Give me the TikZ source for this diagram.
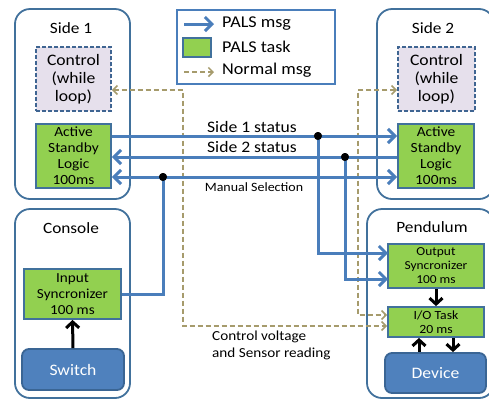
\documentclass[tikz,border=0pt]{standalone}
\usepackage{fontspec}
\setmainfont[FakeStretch=1.1]{Carlito}
\usetikzlibrary{arrows.meta}
\definecolor{lnblue}{HTML}{4A7EBB}
\definecolor{bdblue}{HTML}{41719C}
\definecolor{tgreen}{HTML}{92D050}
\definecolor{ctlfill}{HTML}{E6E0EC}
\definecolor{ctlbd}{HTML}{3F6592}
\definecolor{khaki}{HTML}{A69B6C}
\definecolor{devfill}{HTML}{4F81BD}
\definecolor{devbd}{HTML}{3A6594}
\begin{document}
\begin{tikzpicture}[x=1pt,y=-1pt,
 container/.style={draw=bdblue, line width=1.8pt, rounded corners=15pt, inner sep=0pt},
 ctlbox/.style={draw=ctlbd, fill=ctlfill, dash pattern=on 4pt off 2pt, line width=1.8pt, align=center, font=\fontsize{16}{18}\selectfont, inner sep=0pt},
 task/.style={draw=bdblue, fill=tgreen, line width=1.8pt, align=center, inner sep=0pt},
 hw/.style={draw=devbd, fill=devfill, line width=1.8pt, rounded corners=7pt, text=white, font=\fontsize{16}{18}\selectfont, inner sep=0pt},
 title/.style={font=\fontsize{15.7}{18}\selectfont, inner sep=0pt},
 pals/.style={draw=lnblue, line width=3pt, -{Straight Barb[length=7pt,width=14pt]}},
 palsboth/.style={draw=lnblue, line width=3pt, {Straight Barb[length=7pt,width=14pt]}-{Straight Barb[length=7pt,width=14pt]}},
 palsline/.style={draw=lnblue, line width=3pt},
 nmsg/.style={draw=khaki, line width=1.5pt, dash pattern=on 5pt off 3pt, -{Straight Barb[length=4.5pt,width=9pt]}},
 nmsgboth/.style={draw=khaki, line width=1.5pt, dash pattern=on 5pt off 3pt, {Straight Barb[length=4.5pt,width=9pt]}-{Straight Barb[length=4.5pt,width=9pt]}},
 ctrlarrow/.style={draw=black, line width=3pt, -{Straight Barb[length=6pt,width=13pt]}},
 dot/.style={circle, fill=black, inner sep=0pt, minimum size=8pt},
 lbl/.style={inner sep=0pt}
]
\useasboundingbox (0,0) rectangle (489,400);
\clip (0,0) rectangle (489,400);
\fill[white] (0,0) rectangle (489,400);

% containers
\node[container, minimum width=115pt, minimum height=190pt] (side1) at (72.5,104) {};
\node[container, minimum width=115pt, minimum height=189pt] (console) at (72.5,303.5) {};
\node[container, minimum width=117pt, minimum height=190pt] (side2) at (435.5,104) {};
\node[container, minimum width=127pt, minimum height=189pt] (pend) at (430.5,303.5) {};

\node[title] (t1) at (71,28) {Side 1};
\node[title] (t2) at (71,228) {Console};
\node[title] (t3) at (433,28) {Side 2};
\node[title] (t4) at (432,227) {Pendulum};

% legend
\node[draw=lnblue, line width=1.8pt, minimum width=158pt, minimum height=74pt, inner sep=0pt] (legend) at (256,47) {};
\coordinate (la1) at (184,24);
\coordinate (la2) at (214,24);
\draw[pals] (la1) -- (la2);
\node[task, minimum width=28pt, minimum height=19pt] (lsq) at (197,47.5) {};
\coordinate (lb1) at (184,72);
\coordinate (lb2) at (214,72);
\draw[nmsg] (lb1) -- (lb2);
\node[lbl, anchor=west, font=\fontsize{16.5}{18}\selectfont] (lt1) at (222,24) {PALS msg};
\node[lbl, anchor=west, font=\fontsize{16.5}{18}\selectfont] (lt2) at (222,47) {PALS task};
\node[lbl, anchor=west, font=\fontsize{16.5}{18}\selectfont] (lt3) at (222,70) {Normal msg};

% inner boxes
\node[ctlbox, minimum width=75pt, minimum height=64pt] (s1ctl) at (73.5,79) {Control\\(while\\loop)};
\node[task, minimum width=75pt, minimum height=64pt, font=\fontsize{14}{16}\selectfont] (s1act) at (73.5,156) {Active\\Standby\\Logic\\100ms};
\node[ctlbox, minimum width=77pt, minimum height=64pt] (s2ctl) at (436.5,79) {Control\\(while\\loop)};
\node[task, minimum width=76pt, minimum height=64pt, font=\fontsize{14}{16}\selectfont] (s2act) at (436,156) {Active\\Standby\\Logic\\100ms};
\node[task, minimum width=97pt, minimum height=50pt, font=\fontsize{13.8}{16}\selectfont] (insync) at (72.5,294) {Input\\Syncronizer\\100 ms};
\node[hw, minimum width=102pt, minimum height=41pt] (switch) at (73,369.5) {Switch};
\node[task, minimum width=96pt, minimum height=44pt, font=\fontsize{12.2}{14}\selectfont] (outsync) at (436,266) {Output\\Syncronizer\\100 ms};
\node[task, minimum width=96pt, minimum height=30pt, font=\fontsize{12.5}{14}\selectfont] (io) at (436,322) {I/O Task\\20 ms};
\node[hw, minimum width=101pt, minimum height=40pt] (device) at (435.5,373) {Device};

% normal messages
\coordinate (na1) at (358,90);
\coordinate (na2) at (358,315);
\draw[nmsgboth] (s2ctl.west |- na1) -- (na1) -- (na2) -- (io.west |- na2);
\coordinate (nb1) at (183,90);
\coordinate (nb2) at (183,326);
\draw[nmsgboth] (s1ctl.east |- nb1) -- (nb1) -- (nb2) -- (io.west |- nb2);
\node[lbl, anchor=west, align=left, font=\fontsize{13.8}{17}\selectfont] (cvl) at (212,345.5) {Control voltage\\and Sensor reading};

% PALS messages
\node[dot] (d1) at (318,136) {};
\node[dot] (d2) at (345,157) {};
\node[dot] (d3) at (163,177) {};
\draw[pals] (s1act.east |- d1) -- (s2act.west |- d1);
\draw[pals] (s2act.west |- d2) -- (s1act.east |- d2);
\draw[palsboth] (s1act.east |- d3) -- (s2act.west |- d3);
\coordinate (o1) at (388,253);
\coordinate (o2) at (388,279);
\draw[pals] (d1.center) |- (o1);
\draw[pals] (d2.center) |- (o2);
\draw[palsline] (insync.east) -| (d3.center);
\node[dot] at (d1) {};
\node[dot] at (d2) {};
\node[dot] at (d3) {};
\node[lbl, font=\fontsize{16}{18}\selectfont] (l1) at (252,127) {Side 1 status};
\node[lbl, font=\fontsize{16}{18}\selectfont] (l2) at (252,147) {Side 2 status};
\node[lbl, font=\fontsize{12.7}{14}\selectfont] (l3) at (254,187) {Manual Selection};

% control arrows
\draw[ctrlarrow] (switch.north) -- (insync.south);
\draw[ctrlarrow] (outsync.south) -- (io.north);
\coordinate (c1) at (419,0);
\coordinate (c2) at (453,0);
\draw[ctrlarrow] (device.north -| c1) -- (io.south -| c1);
\draw[ctrlarrow] (io.south -| c2) -- (device.north -| c2);
\end{tikzpicture}
\end{document}
